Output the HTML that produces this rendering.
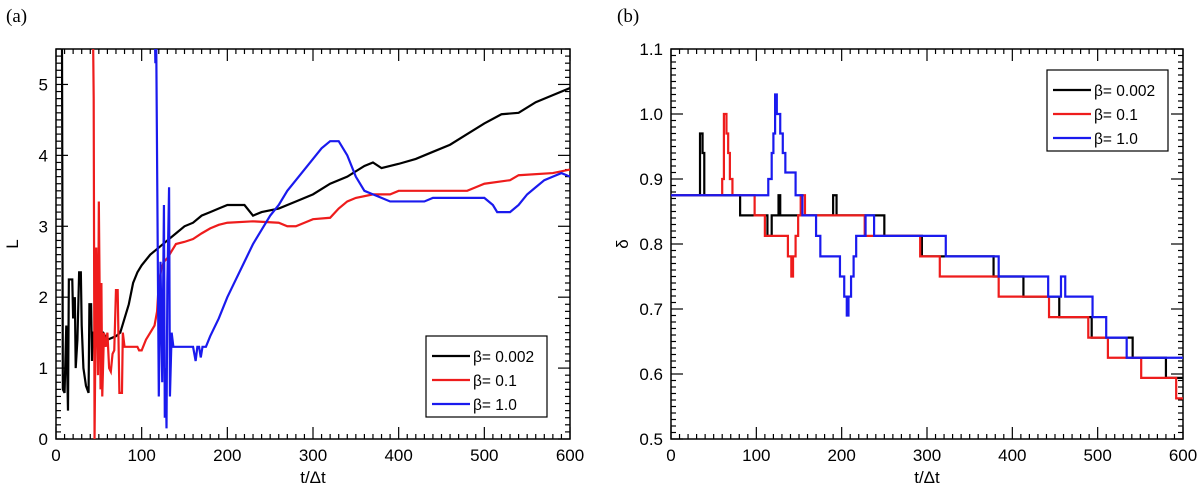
<!DOCTYPE html>
<html><head><meta charset="utf-8"><style>
html,body{margin:0;padding:0;background:#fff;}
svg{display:block;font-family:"Liberation Sans",Helvetica,sans-serif;}
</style></head><body>
<svg id="chart" width="1200" height="487" viewBox="0 0 1200 487" xmlns="http://www.w3.org/2000/svg">
<defs>
<clipPath id="clipA"><rect x="56" y="49" width="514" height="390"/></clipPath>
<clipPath id="clipB"><rect x="671" y="49" width="512" height="390"/></clipPath>
</defs>
<text x="6" y="22" font-family="Liberation Serif, serif" font-size="19">(a)</text>
<text x="617" y="22" font-family="Liberation Serif, serif" font-size="19">(b)</text>
</svg>
<script>
const NS='http://www.w3.org/2000/svg';
const svg=document.getElementById('chart');
// ---- data ----
const xTicks=[0,100,200,300,400,500,600];
const yTicksA=[0,1,2,3,4,5];
const yTickLabelsA=['0','1','2','3','4','5'];
const yTicksB=[0.5,0.6,0.7,0.8,0.9,1.0,1.1];
const yTickLabelsB=['0.5','0.6','0.7','0.8','0.9','1.0','1.1'];
const legendLabels=['β= 0.002','β= 0.1','β= 1.0'];
// panel a series: [t, L]
const aBlack=[[6,6],[7,5.6],[8,0.7],[10,0.65],[12,1.6],[14,0.4],[15,2.25],[19,2.25],[20,1.7],[22,2.0],[23,1.0],[25,1.4],[27,2.35],[29,2.35],[30,1.6],[32,1.0],[35,0.75],[38,0.65],[39,1.9],[41,1.9],[42,1.1],[43,1.5],[50,1.5],[55,1.5],[60,1.4],[70,1.45],[75,1.5],[80,1.7],[85,1.9],[90,2.2],[95,2.35],[100,2.45],[110,2.6],[120,2.7],[130,2.8],[140,2.9],[150,3.0],[160,3.05],[170,3.15],[180,3.2],[190,3.25],[200,3.3],[220,3.3],[230,3.15],[240,3.2],[260,3.25],[280,3.35],[300,3.45],[320,3.6],[340,3.7],[360,3.85],[370,3.9],[380,3.82],[400,3.88],[420,3.95],[440,4.05],[460,4.15],[480,4.3],[500,4.45],[520,4.58],[540,4.6],[560,4.75],[580,4.85],[600,4.95]];
const aRed=[[43,6],[44,4.8],[45,0.0],[47,2.7],[49,0.9],[50,3.35],[52,0.7],[53,2.2],[54,0.6],[56,1.5],[58,1.3],[60,1.5],[62,1.0],[64,0.95],[66,1.2],[68,1.25],[70,2.1],[72,2.1],[74,0.65],[77,0.65],[78,1.5],[80,1.3],[95,1.3],[97,1.25],[100,1.25],[105,1.4],[110,1.5],[115,1.6],[118,1.8],[120,2.2],[123,2.4],[126,2.5],[130,2.55],[135,2.65],[140,2.75],[150,2.78],[160,2.82],[170,2.9],[180,2.97],[190,3.02],[200,3.05],[230,3.07],[260,3.05],[270,3.0],[280,3.0],[290,3.05],[300,3.1],[320,3.12],[330,3.25],[340,3.35],[350,3.4],[370,3.45],[390,3.45],[400,3.5],[480,3.5],[490,3.55],[500,3.6],[530,3.65],[540,3.72],[580,3.75],[600,3.8]];
const aBlue=[[115,6],[116,5.3],[117,5.6],[120,0.6],[122,2.5],[124,0.8],[126,3.3],[127,0.3],[128,1.0],[129,0.15],[130,2.2],[132,3.55],[133,0.6],[135,1.5],[137,1.3],[160,1.3],[163,1.1],[165,1.3],[167,1.3],[169,1.15],[171,1.3],[175,1.3],[180,1.45],[190,1.7],[200,2.0],[210,2.25],[220,2.5],[230,2.75],[240,2.95],[250,3.15],[260,3.3],[270,3.5],[280,3.65],[290,3.8],[300,3.95],[310,4.1],[320,4.2],[330,4.2],[340,4.0],[350,3.7],[360,3.5],[370,3.45],[380,3.4],[390,3.35],[430,3.35],[440,3.4],[500,3.4],[510,3.3],[515,3.2],[530,3.2],[540,3.3],[550,3.45],[560,3.55],[570,3.65],[580,3.7],[590,3.75],[600,3.7]];
// panel b series (step-after): [t, delta]
const bBlack=[[0,0.875],[34,0.97],[37,0.94],[39,0.875],[81,0.844],[113,0.8125],[118,0.844],[126,0.875],[128,0.844],[190,0.875],[194,0.844],[250,0.8125],[294,0.781],[378,0.75],[413,0.719],[455,0.6875],[493,0.656],[541,0.625],[580,0.594],[600,0.594]];
const bRed=[[0,0.875],[60,0.9],[62,1.0],[65,0.97],[67,0.94],[69,0.9],[72,0.875],[98,0.844],[110,0.8125],[137,0.781],[141,0.75],[143,0.781],[146,0.8125],[149,0.844],[152,0.875],[157,0.844],[227,0.8125],[292,0.781],[315,0.75],[384,0.719],[443,0.6875],[489,0.656],[512,0.625],[551,0.594],[592,0.5625],[600,0.5625]];
const bBlue=[[0,0.875],[114,0.9],[118,0.94],[120,0.97],[122,1.03],[124,1.0],[128,0.97],[131,0.94],[134,0.91],[146,0.875],[154,0.844],[170,0.8125],[175,0.781],[198,0.75],[203,0.719],[206,0.69],[208,0.719],[211,0.75],[214,0.781],[217,0.8125],[228,0.844],[238,0.8125],[322,0.781],[384,0.75],[442,0.719],[457,0.75],[462,0.719],[494,0.6875],[510,0.656],[534,0.625],[600,0.625]];

function el(tag,attrs,parent){const e=document.createElementNS(NS,tag);for(const k in attrs)e.setAttribute(k,attrs[k]);(parent||svg).appendChild(e);return e;}
function makeAxes(p){
  return {x:t=>p.x0+(t-0)/(600-0)*(p.x1-p.x0), y:v=>p.y1-(v-p.ymin)/(p.ymax-p.ymin)*(p.y1-p.y0)};
}
function drawPanel(p){
  const ax=makeAxes(p);
  const g=el('g',{});
  
  
  for(let t=0;t<=600;t+=10){
    const major=t%100===0;const L=major?12:5;const X=ax.x(t);
    el('line',{x1:X,x2:X,y1:p.y1,y2:p.y1-L,stroke:'#000','stroke-width':1.2},g);
    el('line',{x1:X,x2:X,y1:p.y0,y2:p.y0+L,stroke:'#000','stroke-width':1.2},g);
  }
  const steps=Math.round((p.ymax-p.ymin)/p.minor);
  for(let i=0;i<=steps;i++){
    const v=p.ymin+i*p.minor;const major=i%p.majorEvery===0;const L=major?12:5;const Y=ax.y(v);
    el('line',{x1:p.x0,x2:p.x0+L,y1:Y,y2:Y,stroke:'#000','stroke-width':1.2},g);
    el('line',{x1:p.x1,x2:p.x1-L,y1:Y,y2:Y,stroke:'#000','stroke-width':1.2},g);
  }
  xTicks.forEach(t=>{
    const tx=el('text',{x:ax.x(t),y:p.y1+22,'text-anchor':'middle','font-size':17},g);
    
    
    tx.textContent=t;
  });
  p.yTicks.forEach((v,i)=>{
    const tx=el('text',{x:p.x0-8,y:ax.y(v)+6,'text-anchor':'end','font-size':17},g);
    
    
    tx.textContent=p.yLabels[i];
  });
  const xt=el('text',{x:(p.x0+p.x1)/2,y:483,'text-anchor':'middle','font-size':17},g);
  
  
  xt.textContent='t/Δt';
  const yt=el('text',{x:p.ytX,y:(p.y0+p.y1)/2,'text-anchor':'middle','font-size':17,transform:`rotate(-90 ${p.ytX} ${(p.y0+p.y1)/2})`},g);
  
  
  yt.textContent=p.ytitle;
  const sg=el('g',{'clip-path':`url(#${p.clip})`});
  p.series.forEach((s,si)=>{
    let pts=[];
    s.data.forEach((d,i)=>{
      if(p.step&&i>0){pts.push([ax.x(d[0]),ax.y(s.data[i-1][1])]);}
      pts.push([ax.x(d[0]),ax.y(d[1])]);
    });
    const pl=el('polyline',{points:pts.map(q=>q.join(',')).join(' '),fill:'none',stroke:s.color,'stroke-width':2.2,'stroke-linejoin':'miter'},sg);
    
    
  });
  el('rect',{x:p.x0,y:p.y0,width:p.x1-p.x0,height:p.y1-p.y0,fill:'none',stroke:'#000','stroke-width':1.5},g);
  const lg=el('g',{});
  
  
  el('rect',{x:p.lx,y:p.ly,width:121,height:81,fill:'#fff',stroke:'#000','stroke-width':1.2},lg);
  p.series.forEach((s,i)=>{
    const yy=p.ly+20+i*24;
    const ln=el('line',{x1:p.lx+6,x2:p.lx+44,y1:yy,y2:yy,stroke:s.color,'stroke-width':2.2},lg);
    
    
    const tx=el('text',{x:p.lx+47,y:yy+6,'font-size':15.5},lg);
    
    
    tx.textContent=legendLabels[i];
  });
}
const colors=['#000000','#ee1c1c','#1a1aee'];
drawPanel({name:'panel-a',x0:56,x1:570,y0:49,y1:439,ymin:0,ymax:5.5,minor:0.1,majorEvery:10,yTicks:yTicksA,yLabels:yTickLabelsA,ytitle:'L',ytX:18,clip:'clipA',step:false,lx:426,ly:336,
  series:[{data:aBlack,color:colors[0]},{data:aRed,color:colors[1]},{data:aBlue,color:colors[2]}]});
drawPanel({name:'panel-b',x0:671,x1:1183,y0:49,y1:439,ymin:0.5,ymax:1.1,minor:0.01,majorEvery:10,yTicks:yTicksB,yLabels:yTickLabelsB,ytitle:'δ',ytX:628,clip:'clipB',step:true,lx:1047,ly:70,
  series:[{data:bBlack,color:colors[0]},{data:bRed,color:colors[1]},{data:bBlue,color:colors[2]}]});
</script>
</body></html>
